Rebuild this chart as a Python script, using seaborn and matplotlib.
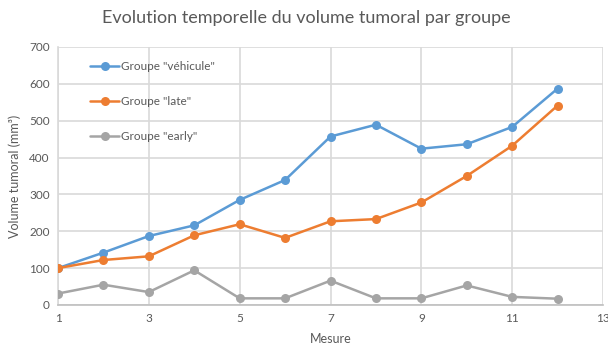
import matplotlib
matplotlib.use("Agg")
import matplotlib.pyplot as plt
import seaborn as sns
import pandas as pd

# Measurement index and mean tumour volume per group (mm³)
mesures = list(range(1, 13))
vehicule = [100, 142, 187, 216, 285, 339, 457, 489, 424, 436, 483, 587]
late = [100, 122, 132, 189, 219, 182, 227, 233, 278, 350, 432, 541]
early = [31, 55, 35, 94, 18, 18, 66, 18, 18, 53, 22, 17]

groupes = ['Groupe "véhicule"', 'Groupe "late"', 'Groupe "early"']
couleurs = ["#5B9BD5", "#ED7D31", "#A5A5A5"]

df = pd.DataFrame({
    "Mesure": mesures * 3,
    "Volume": vehicule + late + early,
    "Groupe": [groupes[0]] * 12 + [groupes[1]] * 12 + [groupes[2]] * 12,
})

sns.set_theme(style="white")
plt.rcParams["font.family"] = ["Lato", "DejaVu Sans"]
texte = "#595959"

fig = plt.figure(figsize=(6.08, 3.45), dpi=100)
ax = fig.add_axes([0.0954, 0.116, 0.8964, 0.748])

sns.lineplot(data=df, x="Mesure", y="Volume", hue="Groupe", hue_order=groupes,
             palette=couleurs, marker="o", markersize=6.5, markeredgewidth=0,
             linewidth=1.8, ax=ax, zorder=3)

ax.set_xlim(1, 13)
ax.set_ylim(0, 700)
ax.set_xticks(range(1, 14, 2))
ax.set_yticks(range(0, 701, 100))
ax.grid(True, color="#d9d9d9", linewidth=1.2, zorder=0)
ax.set_axisbelow(True)
for side in ["top", "right"]:
    ax.spines[side].set_visible(False)
ax.spines["left"].set_color("#d9d9d9")
ax.spines["left"].set_linewidth(1.2)
ax.spines["bottom"].set_color("#bfbfbf")
ax.spines["bottom"].set_linewidth(1.2)
ax.tick_params(axis="both", length=0, labelsize=8.5, colors=texte, pad=6)

ax.set_xlabel("Mesure", fontsize=9, color=texte, labelpad=6)
ax.set_ylabel("Volume tumoral (mm³)", fontsize=9, color=texte, labelpad=6)
fig.suptitle("Evolution temporelle du volume tumoral par groupe",
             fontsize=13, color=texte, x=0.503, y=0.97)

leg = ax.legend(loc="upper left", bbox_to_anchor=(0.04, 0.985), frameon=False,
                fontsize=8.5, labelspacing=2.0, handlelength=2.4,
                handletextpad=0.15)
for t in leg.get_texts():
    t.set_color(texte)

fig.savefig("out.png", dpi=100)
